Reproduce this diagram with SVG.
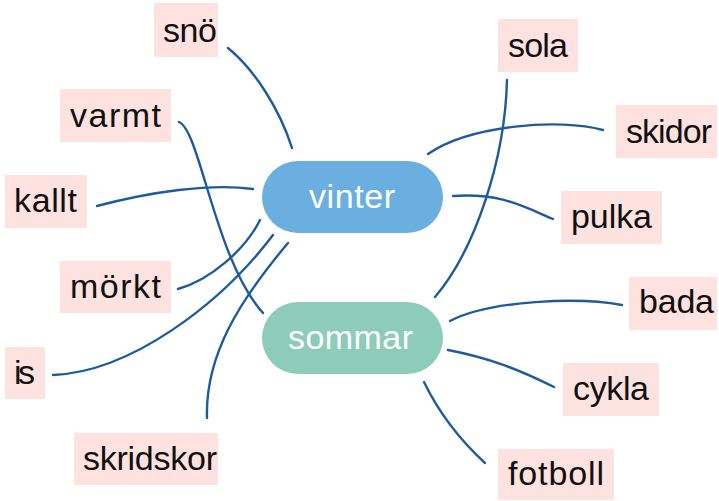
<svg xmlns="http://www.w3.org/2000/svg" width="719" height="501" viewBox="0 0 719 501">
<style>
.box{fill:#fde2df}
.t{font-family:"Liberation Sans",Arial,sans-serif;font-size:34px;fill:#111}
.pt{font-family:"Liberation Sans",Arial,sans-serif;font-size:34px;fill:#fff}
.c{fill:none;stroke:#1e5b9e;stroke-width:2.4;stroke-linecap:round}
</style>
<rect width="719" height="501" fill="#fff"/>
<g id="connectors">
<path class="c" d="M228,48 C255,70 280,110 292,148"/>
<path class="c" d="M179,122 C200,130 215,260 263,313"/>
<path class="c" d="M97,206 C150,192 210,183 253,189"/>
<path class="c" d="M178,289 C210,280 245,250 260,220"/>
<path class="c" d="M53,375 C130,372 220,305 273,235"/>
<path class="c" d="M207,418 C205,355 240,300 288,243"/>
<path class="c" d="M507,80 C505,160 475,250 435,297"/>
<path class="c" d="M428,154 C470,125 560,118 603,130"/>
<path class="c" d="M453,196 C500,193 520,205 553,219"/>
<path class="c" d="M450,321 C490,300 580,297 622,305"/>
<path class="c" d="M448,350 C490,358 520,370 554,387"/>
<path class="c" d="M424,382 C440,415 460,440 485,463"/>
</g>
<g id="vinter"><rect x="262" y="161" width="181" height="72" rx="36" fill="#6aafe0"/><text class="pt" x="309" y="208" textLength="86">vinter</text></g>
<g id="sommar"><rect x="262" y="302" width="181" height="72" rx="36" fill="#8dccb8"/><text class="pt" x="288" y="349" textLength="125">sommar</text></g>
<g id="sno"><rect class="box" x="154" y="3" width="64" height="54"/><text class="t" x="163" y="42" textLength="54">snö</text></g>
<g id="varmt"><rect class="box" x="60" y="89" width="111" height="53"/><text class="t" x="70" y="127" textLength="91">varmt</text></g>
<g id="kallt"><rect class="box" x="5" y="175" width="82" height="53"/><text class="t" x="14" y="212" textLength="63">kallt</text></g>
<g id="morkt"><rect class="box" x="60" y="261" width="111" height="52"/><text class="t" x="70" y="298" textLength="91">mörkt</text></g>
<g id="is"><rect class="box" x="5" y="347" width="40" height="52"/><text class="t" x="14" y="384" textLength="21">is</text></g>
<g id="skridskor"><rect class="box" x="74" y="433" width="144" height="52"/><text class="t" x="83" y="470" textLength="134">skridskor</text></g>
<g id="sola"><rect class="box" x="498" y="19" width="80" height="53"/><text class="t" x="508" y="57" textLength="60">sola</text></g>
<g id="skidor"><rect class="box" x="616" y="105" width="101" height="53"/><text class="t" x="626" y="143" textLength="86">skidor</text></g>
<g id="pulka"><rect class="box" x="561" y="191" width="101" height="53"/><text class="t" x="571" y="228" textLength="81">pulka</text></g>
<g id="bada"><rect class="box" x="629" y="277" width="88" height="53"/><text class="t" x="639" y="313" textLength="75">bada</text></g>
<g id="cykla"><rect class="box" x="563" y="363" width="96" height="53"/><text class="t" x="573" y="400" textLength="76">cykla</text></g>
<g id="fotboll"><rect class="box" x="498" y="449" width="116" height="51"/><text class="t" x="508" y="485" textLength="96">fotboll</text></g>
</svg>
